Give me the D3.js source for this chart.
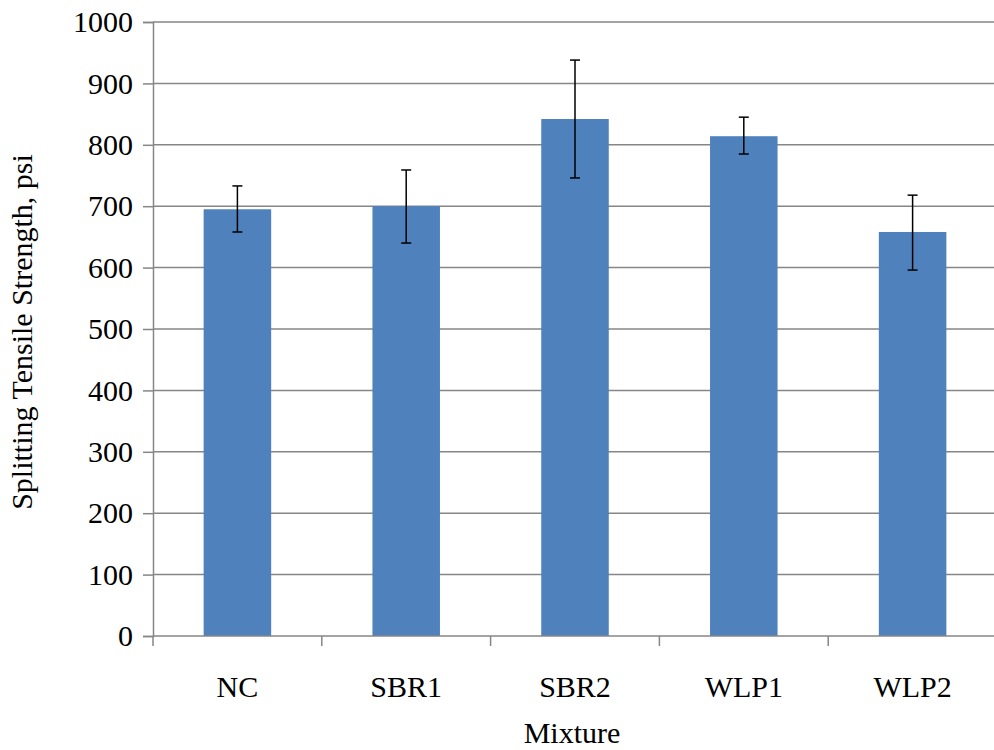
<!DOCTYPE html>
<html><head><meta charset="utf-8">
<script src="https://cdn.jsdelivr.net/npm/d3@7"></script>
<style>body{margin:0;background:#fff}text{font-family:"Liberation Serif","Times New Roman",serif}</style>
</head><body>
<svg id="c" width="994" height="750"></svg>
<script>
// data
var categories = ['NC', 'SBR1', 'SBR2', 'WLP1', 'WLP2'];
var values = [695, 700, 842, 814, 658];
var errLow = [658, 640, 746, 785, 596];
var errHigh = [733, 759, 938, 845, 718];
var yTicks = [0, 100, 200, 300, 400, 500, 600, 700, 800, 900, 1000];

var svg = d3.select('#c');
var mLeft = 153, mRight = 997, mTop = 22, mBottom = 636;
var fs = 30;

var x = d3.scaleBand().domain(categories).range([mLeft, mRight]).paddingInner(0.6).paddingOuter(0.3);
var y = d3.scaleLinear().domain([0, 1000]).range([mBottom, mTop]);

// gridlines
svg.append('g').selectAll('line').data(yTicks.slice(1)).enter().append('line')
  .attr('x1', mLeft).attr('x2', mRight)
  .attr('y1', function(d) { return y(d); }).attr('y2', function(d) { return y(d); })
  .attr('stroke', '#868686').attr('stroke-width', 1.5);

// bars
svg.append('g').selectAll('rect').data(values).enter().append('rect')
  .attr('x', function(d, i) { return x(categories[i]); })
  .attr('y', function(d) { return y(d); })
  .attr('width', x.bandwidth())
  .attr('height', function(d) { return y(0) - y(d); })
  .attr('fill', '#4F81BD');

// error bars
var eb = svg.append('g').attr('stroke', '#000').attr('stroke-width', 1.5);
categories.forEach(function(c, i) {
  var cx = x(c) + x.bandwidth() / 2;
  eb.append('line').attr('x1', cx).attr('x2', cx).attr('y1', y(errLow[i])).attr('y2', y(errHigh[i]));
  eb.append('line').attr('x1', cx - 5).attr('x2', cx + 5).attr('y1', y(errLow[i])).attr('y2', y(errLow[i]));
  eb.append('line').attr('x1', cx - 5).attr('x2', cx + 5).attr('y1', y(errHigh[i])).attr('y2', y(errHigh[i]));
});

// y axis
var ya = svg.append('g').attr('transform', 'translate(' + mLeft + ',0)')
  .call(d3.axisLeft(y).tickValues(yTicks).tickFormat(d3.format('d')).tickSize(10).tickPadding(10));
ya.attr('font-size', fs).attr('font-family', null);
ya.selectAll('text').attr('fill', '#000');
ya.selectAll('line,path').attr('stroke', '#868686').attr('stroke-width', 1.5);

// x axis
var xa = svg.append('g').attr('transform', 'translate(0,' + mBottom + ')');
xa.append('line').attr('x1', mLeft).attr('x2', mRight).attr('stroke', '#868686').attr('stroke-width', 1.5);
var bounds = categories.map(function(c) { return x(c) - x.step() * x.paddingInner() / 2; }).concat([mRight]);
xa.selectAll('line.t').data(bounds).enter().append('line').attr('class', 't')
  .attr('x1', function(d) { return d; }).attr('x2', function(d) { return d; })
  .attr('y1', 0).attr('y2', 10).attr('stroke', '#868686').attr('stroke-width', 1.5);
xa.selectAll('text').data(categories).enter().append('text')
  .attr('x', function(d) { return x(d) + x.bandwidth() / 2; }).attr('y', 61)
  .attr('text-anchor', 'middle').attr('font-size', fs).text(function(d) { return d; });

svg.append('text').attr('x', (mLeft + mRight) / 2 - 3).attr('y', 743).attr('text-anchor', 'middle')
  .attr('font-size', fs).text('Mixture');
svg.append('text').attr('transform', 'translate(32,' + ((mTop + mBottom) / 2 + 3) + ') rotate(-90)')
  .attr('text-anchor', 'middle').attr('font-size', fs).text('Splitting Tensile Strength, psi');
</script>
</body></html>
